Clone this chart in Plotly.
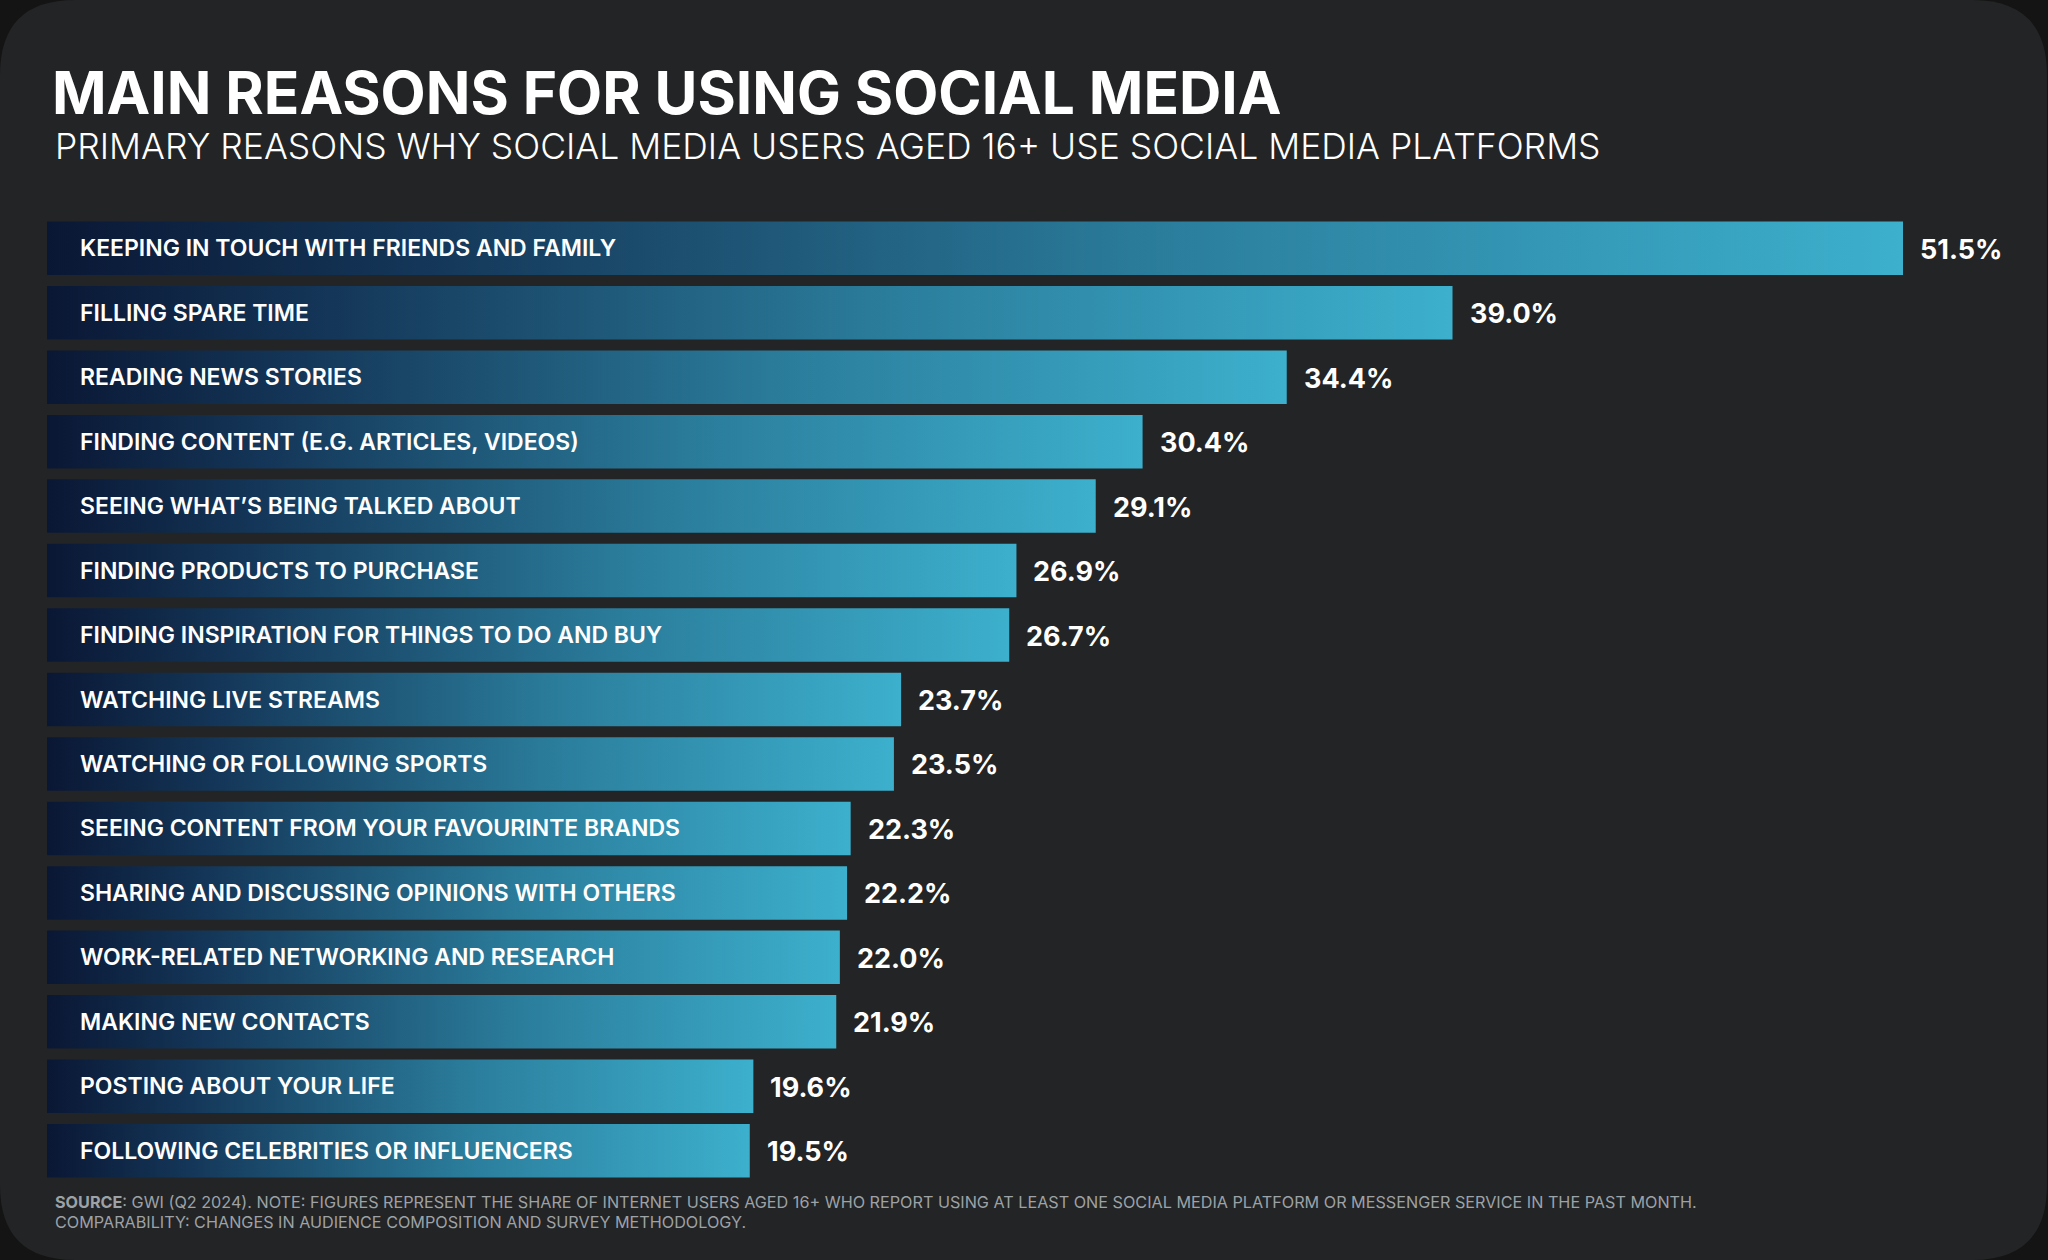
import plotly.graph_objects as go

categories = [
    "KEEPING IN TOUCH WITH FRIENDS AND FAMILY",
    "FILLING SPARE TIME",
    "READING NEWS STORIES",
    "FINDING CONTENT (E.G. ARTICLES, VIDEOS)",
    "SEEING WHAT’S BEING TALKED ABOUT",
    "FINDING PRODUCTS TO PURCHASE",
    "FINDING INSPIRATION FOR THINGS TO DO AND BUY",
    "WATCHING LIVE STREAMS",
    "WATCHING OR FOLLOWING SPORTS",
    "SEEING CONTENT FROM YOUR FAVOURINTE BRANDS",
    "SHARING AND DISCUSSING OPINIONS WITH OTHERS",
    "WORK-RELATED NETWORKING AND RESEARCH",
    "MAKING NEW CONTACTS",
    "POSTING ABOUT YOUR LIFE",
    "FOLLOWING CELEBRITIES OR INFLUENCERS",
]
values = [51.5, 39.0, 34.4, 30.4, 29.1, 26.9, 26.7, 23.7, 23.5, 22.3, 22.2, 22.0, 21.9, 19.6, 19.5]
value_labels = [f"{v:.1f}%" for v in values]

TITLE = "MAIN REASONS FOR USING SOCIAL MEDIA"
SUBTITLE = "PRIMARY REASONS WHY SOCIAL MEDIA USERS AGED 16+ USE SOCIAL MEDIA PLATFORMS"
FOOT1 = ("<b>SOURCE</b>: GWI (Q2 2024). NOTE: FIGURES REPRESENT THE SHARE OF INTERNET USERS AGED 16+ "
         "WHO REPORT USING AT LEAST ONE SOCIAL MEDIA PLATFORM OR MESSENGER SERVICE IN THE PAST MONTH.")
FOOT2 = "COMPARABILITY: CHANGES IN AUDIENCE COMPOSITION AND SURVEY METHODOLOGY."

W, H = 2048, 1260
ML, MR, MT, MB = 47, 145, 216, 77
PW, PH = W - ML - MR, H - MT - MB
FONT = "Inter"
HALF = 0.415
grad = [[0.0, "#0a1734"], [0.2, "#143658"], [0.6, "#2b7d9c"], [1.0, "#3cb0cd"]]

fig = go.Figure()
for i, (c, v) in enumerate(zip(categories, values)):
    fig.add_trace(go.Scatter(
        x=[0, v, v, 0, 0],
        y=[i - HALF, i - HALF, i + HALF, i + HALF, i - HALF],
        mode="lines", fill="toself",
        line=dict(width=0, color="rgba(0,0,0,0)"),
        fillcolor="#3cb0cd",
        fillgradient=dict(type="horizontal", colorscale=grad, start=0, stop=v),
        hoverinfo="text", text=f"{c}: {value_labels[i]}",
        showlegend=False,
    ))

annotations = []
for i, (c, lab, v) in enumerate(zip(categories, value_labels, values)):
    annotations.append(dict(x=0, y=i, xref="x", yref="y", text=c, showarrow=False,
                            xanchor="left", yanchor="middle", xshift=31,
                            font=dict(family=FONT, size=23, color="white", weight=600)))
    annotations.append(dict(x=v, y=i, xref="x", yref="y", text=lab, showarrow=False,
                            xanchor="left", yanchor="middle", xshift=15, yshift=-1,
                            font=dict(family=FONT, size=27, color="white", weight=700)))

def px_x(p):
    return (p - ML) / PW

def px_y(p):
    return (H - MB - p) / PH

annotations.append(dict(x=0, y=1, xref="paper", yref="paper", text=SUBTITLE, showarrow=False,
                        xanchor="left", yanchor="middle", xshift=6, yshift=MT - 146,
                        font=dict(family=FONT, size=35.5, color="white", weight=300)))
annotations.append(dict(x=0, y=0, xref="paper", yref="paper", text=FOOT1, showarrow=False,
                        xanchor="left", yanchor="middle", xshift=6, yshift=-(1202 - (H - MB)),
                        font=dict(family=FONT, size=16.2, color="#9da2a7", weight=400)))
annotations.append(dict(x=0, y=0, xref="paper", yref="paper", text=FOOT2, showarrow=False,
                        xanchor="left", yanchor="middle", xshift=6, yshift=-(1222 - (H - MB)),
                        font=dict(family=FONT, size=16.2, color="#9da2a7", weight=400)))

# rounded card background
x0, x1, y0, y1, r = 0, 2047, 0, 1260, 75
def P(x, y):
    return f"{px_x(x):.6f},{px_y(y):.6f}"
path = (f"M {P(x0 + r, y0)} L {P(x1 - r, y0)} Q {P(x1, y0)} {P(x1, y0 + r)} "
        f"L {P(x1, y1 - r)} Q {P(x1, y1)} {P(x1 - r, y1)} "
        f"L {P(x0 + r, y1)} Q {P(x0, y1)} {P(x0, y1 - r)} "
        f"L {P(x0, y0 + r)} Q {P(x0, y0)} {P(x0 + r, y0)} Z")

fig.update_layout(
    width=W, height=H,
    margin=dict(l=ML, r=MR, t=MT, b=MB),
    paper_bgcolor="#141414", plot_bgcolor="rgba(0,0,0,0)",
    title=dict(text=f"<b>{TITLE}</b>", x=52 / W, xanchor="left", y=1 - 93 / H, yanchor="middle",
               xref="container", yref="container",
               font=dict(family=FONT, size=58.6, color="white", weight=800)),
    xaxis=dict(range=[0, 51.5], visible=False, fixedrange=True),
    yaxis=dict(range=[14.5, -0.5], visible=False, fixedrange=True),
    shapes=[dict(type="path", xref="paper", yref="paper", path=path,
                 fillcolor="#232425", line=dict(width=0), layer="below")],
    annotations=annotations,
    hovermode="closest",
)

fig.write_html(
    "out.html",
    config={"displayModeBar": False},
    post_script="document.body.style.margin='0';document.body.style.background='#141414';",
)
